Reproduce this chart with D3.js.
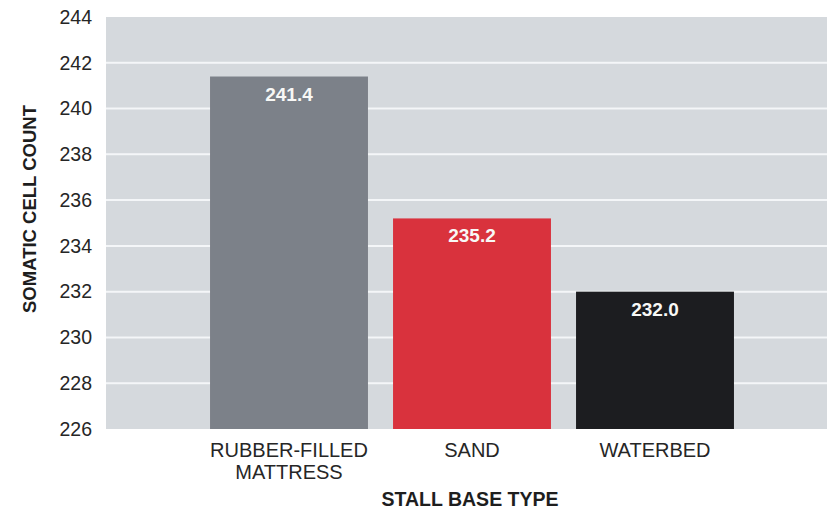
<!DOCTYPE html>
<html>
<head>
<meta charset="utf-8">
<script src="https://cdn.jsdelivr.net/npm/d3@7"></script>
<style>
  html, body { margin: 0; padding: 0; background: #ffffff; }
  svg { display: block; font-family: "Liberation Sans", Arial, Helvetica, sans-serif; }
</style>
</head>
<body>
<svg id="chart" width="827" height="509"></svg>
<script>
// Stall base types and their mean somatic cell counts
const categories = ["RUBBER-FILLED MATTRESS", "SAND", "WATERBED"];
const categoryLines = [["RUBBER-FILLED", "MATTRESS"], ["SAND"], ["WATERBED"]];
const values = [241.4, 235.2, 232.0];
const barColors = ["#7c8189", "#d9323d", "#1c1d20"];
const yTicks = [226, 228, 230, 232, 234, 236, 238, 240, 242, 244];

const svg = d3.select("#chart");
const plot = { left: 106, right: 827, top: 17, bottom: 429 };

const y = d3.scaleLinear().domain([226, 244]).range([plot.bottom, plot.top]);
const x = d3.scaleBand()
  .domain(categories)
  .range([197.5, 746.5])
  .paddingInner(0.137)
  .paddingOuter(0.0685);

// Plot background
svg.append("rect")
  .attr("x", plot.left).attr("y", plot.top)
  .attr("width", plot.right - plot.left).attr("height", plot.bottom - plot.top)
  .attr("fill", "#d5d9dd");

// Horizontal gridlines
svg.append("g")
  .selectAll("line")
  .data(yTicks.filter(t => t > 226 && t < 244))
  .join("line")
  .attr("x1", plot.left).attr("x2", plot.right)
  .attr("y1", d => y(d)).attr("y2", d => y(d))
  .attr("stroke", "#f4f6f8").attr("stroke-width", 2);

// Y axis tick labels
const yAxis = d3.axisLeft(y).tickValues(yTicks).tickSize(0).tickPadding(0).tickFormat(d3.format("d"));
svg.append("g")
  .attr("transform", `translate(${92},0)`)
  .call(yAxis)
  .call(g => g.select(".domain").remove())
  .call(g => g.selectAll("text")
    .attr("font-size", 19.5)
    .attr("fill", "#262626")
    .attr("font-family", "Liberation Sans, Arial, sans-serif"));

// Bars
svg.append("g")
  .selectAll("rect")
  .data(categories)
  .join("rect")
  .attr("x", d => x(d))
  .attr("width", x.bandwidth())
  .attr("y", (d, i) => y(values[i]))
  .attr("height", (d, i) => y(226) - y(values[i]))
  .attr("fill", (d, i) => barColors[i]);

// Value labels inside bars
svg.append("g")
  .selectAll("text")
  .data(categories)
  .join("text")
  .attr("x", d => x(d) + x.bandwidth() / 2)
  .attr("y", (d, i) => y(values[i]) + 24)
  .attr("text-anchor", "middle")
  .attr("font-size", 19)
  .attr("font-weight", "bold")
  .attr("fill", "#f8f8f6")
  .text((d, i) => values[i].toFixed(1));

// Category labels
const catG = svg.append("g")
  .selectAll("text")
  .data(categories)
  .join("text")
  .attr("x", d => x(d) + x.bandwidth() / 2)
  .attr("y", 457)
  .attr("text-anchor", "middle")
  .attr("font-size", 20)
  .attr("fill", "#262626");
catG.each(function (d, i) {
  const t = d3.select(this);
  categoryLines[i].forEach((line, j) => {
    t.append("tspan")
      .attr("x", x(d) + x.bandwidth() / 2)
      .attr("dy", j === 0 ? 0 : 21.5)
      .text(line);
  });
});

// Axis titles
svg.append("text")
  .attr("x", 470).attr("y", 506)
  .attr("text-anchor", "middle")
  .attr("font-size", 19.5)
  .attr("font-weight", "bold")
  .attr("fill", "#1e1e1e")
  .text("STALL BASE TYPE");

svg.append("text")
  .attr("transform", `translate(36,209) rotate(-90)`)
  .attr("text-anchor", "middle")
  .attr("font-size", 18.5)
  .attr("font-weight", "bold")
  .attr("fill", "#1e1e1e")
  .text("SOMATIC CELL COUNT");
</script>
</body>
</html>
